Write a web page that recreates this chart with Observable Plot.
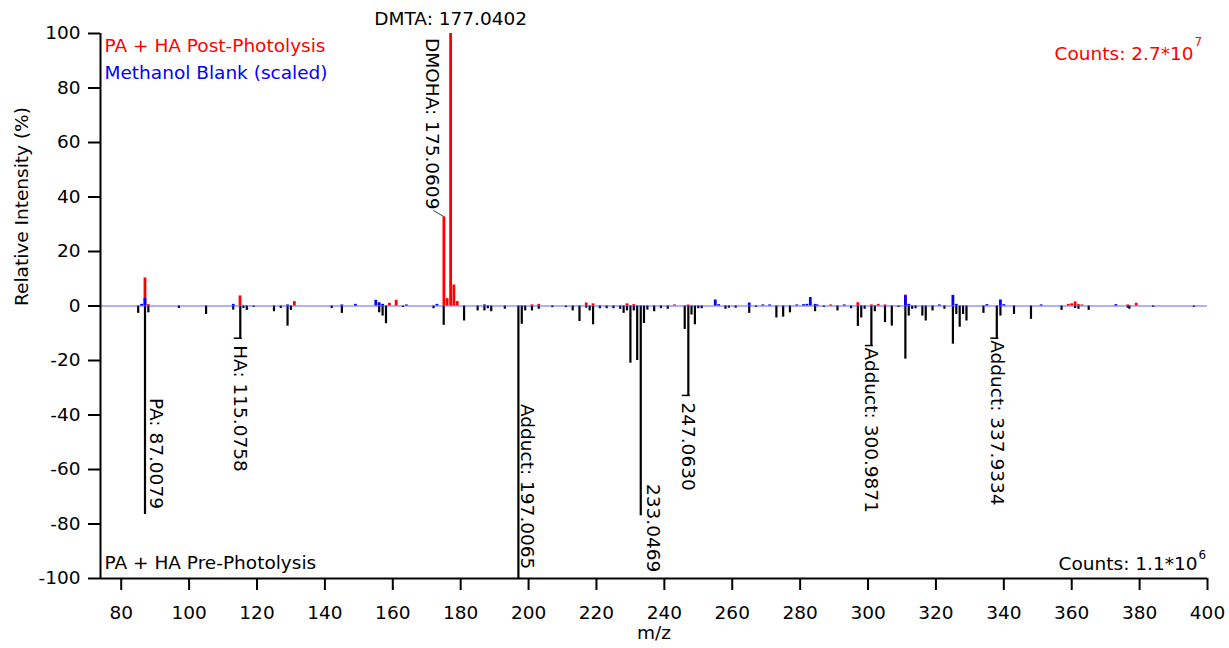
<!DOCTYPE html>
<html>
<head>
<meta charset="utf-8">
<script src="https://cdn.jsdelivr.net/npm/d3@7"></script>
<script src="https://cdn.jsdelivr.net/npm/@observablehq/plot@0.6"></script>
<style>
  html, body { margin: 0; padding: 0; background: #fff; }
  #chart svg { display: block; }
</style>
</head>
<body>
<div id="chart"></div>
<script>
// PA + HA post-photolysis spectrum (relative intensity, %)
const mzPost  = [87, 88, 115, 131, 159, 161, 175.0609, 176, 177.0402, 178, 179, 201, 203, 217, 219, 229, 231, 243, 247, 289, 297, 301, 303, 305, 311, 359, 360, 361, 362, 363, 376.5, 379];
const intPost = [10.3, 0.5, 3.7, 1.6, 1.0, 2.1, 32.7, 2.7, 100, 7.7, 1.6, 0.4, 0.6, 1.1, 0.8, 0.8, 0.5, 0.4, 0.4, 0.4, 1.2, 0.4, 0.6, 0.4, 4.0, 0.6, 0.8, 1.5, 0.5, 0.4, 0.4, 1.0];

// Methanol blank, scaled to the post-photolysis counts
const mzBlank  = [86, 87, 113, 129, 145, 149, 155, 156, 157, 164, 173, 187, 255, 256, 265, 269, 271, 279, 281, 282, 283, 284.4, 285, 293, 311, 312, 321, 325, 326, 335, 339, 340, 351, 373];
const intBlank = [0.6, 2.8, 0.6, 0.4, 0.4, 0.6, 2.1, 1.2, 0.6, 0.4, 0.6, 0.4, 2.2, 0.5, 1.1, 0.4, 0.4, 0.4, 0.5, 0.6, 3.1, 0.6, 0.4, 0.4, 3.7, 0.6, 0.4, 3.9, 0.6, 0.5, 2.2, 0.5, 0.4, 0.5];

// PA + HA pre-photolysis spectrum, drawn mirrored below zero
const mzPre  = [85, 87.0079, 88, 97, 105, 113, 115.0758, 116, 117, 119, 125, 127, 129, 130, 142, 145, 156, 157, 158, 163, 172, 175, 181, 185, 187, 188, 189, 193, 197.0065, 198, 199, 201, 203, 207, 211, 213, 215, 217, 218, 219, 221, 223, 225, 227, 228, 229, 230, 231, 232, 233.0469, 234, 235, 237, 239, 241, 246, 247.0630, 248, 249, 250, 251, 258, 259, 261, 265, 267, 273, 275, 277, 284.4, 287, 291, 295, 297, 298, 299, 300.9871, 302, 305, 307, 309, 311, 312, 313, 314, 316, 317, 319, 322.5, 325, 326, 327, 328, 329, 334, 337.9334, 339, 343, 348, 357, 361, 362, 365, 376.5, 377, 384, 396];
const intPre = [-2.7, -76.5, -2.5, -0.9, -3.1, -1.5, -12, -0.9, -1.6, -0.5, -2.1, -0.9, -7.4, -1.6, -0.9, -2.7, -2.5, -3.7, -6.5, -0.5, -1.0, -7.1, -5.5, -1.8, -1.8, -1.0, -2.1, -1.2, -100, -6.7, -1.8, -1.8, -1.2, -0.6, -0.6, -1.8, -5.7, -0.8, -1.8, -6.9, -1.0, -1.0, -1.0, -1.2, -2.7, -1.8, -21, -1.8, -20, -77, -6.4, -1.5, -2.1, -1.0, -1.2, -8.6, -33, -3.3, -6.9, -1.0, -1.0, -1.2, -0.8, -0.8, -2.7, -0.5, -4.4, -4.1, -2.5, -2.1, -0.5, -1.8, -1.0, -7.5, -4.4, -1.2, -14.7, -2.1, -6.1, -7.4, -0.5, -19.5, -3.7, -1.2, -1.0, -3.7, -5.5, -1.8, -1.2, -14, -3.1, -7.8, -3.1, -5.5, -2.7, -12, -3.7, -3.1, -4.9, -1.6, -0.9, -1.2, -1.6, -0.8, -1.2, -0.5, -0.5];

// Axis ticks
const xTicks = [80, 100, 120, 140, 160, 180, 200, 220, 240, 260, 280, 300, 320, 340, 360, 380, 400];
const yTicks = [-100, -80, -60, -40, -20, 0, 20, 40, 60, 80, 100];

// Peak annotations
const tagText = ["DMOHA: 175.0609", "PA: 87.0079", "HA: 115.0758", "Adduct: 197.0065", "233.0469", "247.0630", "Adduct: 300.9871", "Adduct: 337.9334"];
const tagMz   = [175.0609, 87.0079, 115.0758, 197.0065, 233.0469, 247.0630, 300.9871, 337.9334];

const post  = d3.zip(mzPost, intPost).map(([mz, v]) => ({mz, v}));
const blank = d3.zip(mzBlank, intBlank).map(([mz, v]) => ({mz, v}));
const pre   = d3.zip(mzPre, intPre).map(([mz, v]) => ({mz, v}));

// intensity at each tagged peak (post spectrum for DMOHA, pre spectrum otherwise)
const peakAt = (mz, rows) => rows.find(d => d.mz === mz).v;
// label layout: "side" labels sit right of the peak line, "below" labels hang under its end
const tagLayout = [
  {kind: "left",  dx: -11, top: 38},
  {kind: "side",  dx: 12,  top: 398},
  {kind: "below", dx: 1,   gap: 7},
  {kind: "side",  dx: 10,  top: 404},
  {kind: "side",  dx: 13,  top: 484},
  {kind: "below", dx: 1,   gap: 7},
  {kind: "below", dx: 1,   gap: 2},
  {kind: "below", dx: 1,   gap: 2}
];
const tags = tagText.map((text, i) => ({
  text, mz: tagMz[i], v: peakAt(tagMz[i], i === 0 ? post : pre), ...tagLayout[i]
}));

const FONT = "DejaVu Sans, Verdana, sans-serif";
const FS = 18.5;
const X0 = 73.9;

// custom mark: tag labels and their leader lines, positioned from the scales
function tagMark(index, scales, values, dimensions) {
  const g = d3.create("svg:g").attr("font-family", FONT).attr("font-size", FS);
  for (const t of tags) {
    const px = scales.x(t.mz), py = scales.y(t.v);
    let tx = px + t.dx, ty;
    if (t.kind === "left") {
      ty = t.top;
      g.append("line").attr("x1", px - 10).attr("y1", py - 6).attr("x2", px).attr("y2", py)
        .attr("stroke", "#000").attr("stroke-width", 0.8);
    } else if (t.kind === "side") {
      ty = t.top;
    } else {
      g.append("line").attr("x1", px - 6).attr("x2", px + 2).attr("y1", py).attr("y2", py)
        .attr("stroke", "#000").attr("stroke-width", 1.5);
      ty = py + t.gap;
    }
    g.append("text")
      .attr("transform", `translate(${tx},${ty}) rotate(90)`)
      .attr("text-anchor", "start")
      .attr("dy", "0.35em")
      .attr("fill", "#000")
      .text(t.text);
  }
  return g.node();
}

const chart = Plot.plot({
  width: 1229,
  height: 648,
  marginLeft: 100,
  marginRight: 22,
  marginTop: 33,
  marginBottom: 70,
  style: {fontFamily: FONT, fontSize: FS + "px", color: "#000", background: "#fff", overflow: "visible"},
  x: {domain: [X0, 400]},
  y: {domain: [-100, 100]},
  marks: [
    Plot.axisX({ticks: xTicks, tickSize: 12, tickPadding: 15, tickFormat: d => String(d), strokeWidth: 2, label: null, fontSize: FS}),
    Plot.axisY({ticks: yTicks, tickSize: 12, tickPadding: 8, tickFormat: d => String(d), strokeWidth: 2, label: null, fontSize: FS}),
    Plot.ruleX(pre, {x: "mz", y1: 0, y2: "v", stroke: "#000", strokeWidth: 2.2}),
    Plot.ruleX(post, {x: "mz", y1: 0, y2: "v", stroke: "#ff0000", strokeWidth: 2.8}),
    Plot.ruleX(blank, {x: "mz", y1: 0, y2: "v", stroke: "#0000ff", strokeWidth: 2.8}),
    Plot.ruleY([0], {stroke: "#3a3aff", strokeWidth: 1, strokeOpacity: 0.8}),
    Plot.ruleX([X0], {stroke: "#000", strokeWidth: 2}),
    Plot.ruleY([-100], {stroke: "#000", strokeWidth: 2}),
    tagMark,
    Plot.text(["DMTA: 177.0402"], {x: 177.0402, frameAnchor: "top", dy: -14, fill: "#000", fontSize: FS, lineAnchor: "middle"}),
    Plot.text(["PA + HA Post-Photolysis"], {frameAnchor: "top-left", dx: 4, dy: 12.5, fill: "#ff0000", fontSize: FS, textAnchor: "start", lineAnchor: "middle"}),
    Plot.text(["Methanol Blank (scaled)"], {frameAnchor: "top-left", dx: 4, dy: 40, fill: "#0000ff", fontSize: FS, textAnchor: "start", lineAnchor: "middle"}),
    Plot.text(["PA + HA Pre-Photolysis"], {frameAnchor: "bottom-left", dx: 4, dy: -15, fill: "#000", fontSize: FS, textAnchor: "start", lineAnchor: "middle"}),
    Plot.text(["Counts: 2.7*10"], {frameAnchor: "top-right", dx: -14, dy: 20.5, fill: "#ff0000", fontSize: FS, textAnchor: "end", lineAnchor: "middle"}),
    Plot.text(["7"], {frameAnchor: "top-right", dx: -13, dy: 8.5, fill: "#ff0000", fontSize: 12, textAnchor: "start", lineAnchor: "middle"}),
    Plot.text(["Counts: 1.1*10"], {frameAnchor: "bottom-right", dx: -10, dy: -14.5, fill: "#000", fontSize: FS, textAnchor: "end", lineAnchor: "middle"}),
    Plot.text(["6"], {frameAnchor: "bottom-right", dx: -9, dy: -23.5, fill: "#000", fontSize: 12, textAnchor: "start", lineAnchor: "middle"}),
    Plot.text(["Relative Intensity (%)"], {frameAnchor: "left", dx: -78, rotate: -90, fill: "#000", fontSize: FS, lineAnchor: "middle"}),
    Plot.text(["m/z"], {frameAnchor: "bottom", dy: 55, fill: "#000", fontSize: FS, lineAnchor: "middle"})
  ]
});

document.getElementById("chart").append(chart);
</script>
</body>
</html>
